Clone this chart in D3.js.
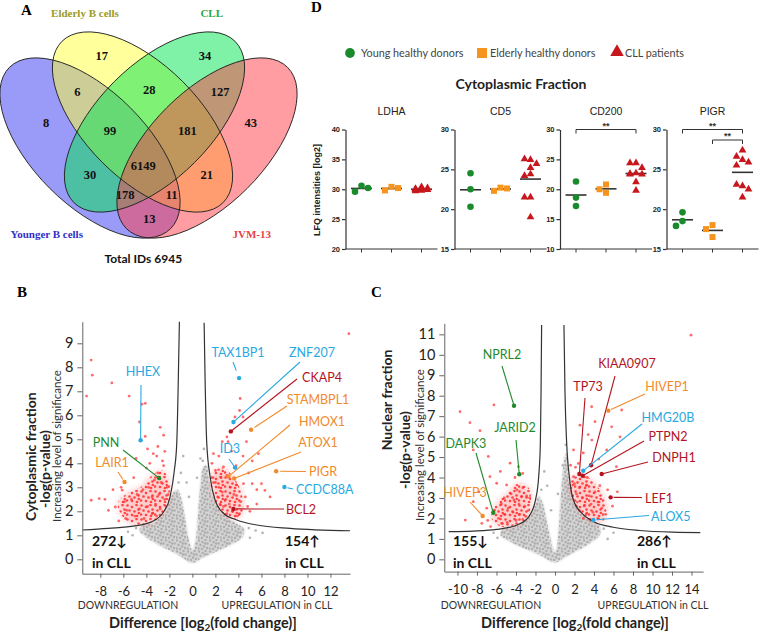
<!DOCTYPE html>
<html>
<head>
<meta charset="utf-8">
<script src="https://cdn.jsdelivr.net/npm/d3@7"></script>
<style>
  body { margin: 0; background: #fff; }
  svg { display: block; }
</style>
</head>
<body>
<div id="fig"></div>
<script>
// ---------- panel A: Venn counts
const vennSets = ['Younger B cells', 'Elderly B cells', 'CLL', 'JVM-13'];
const vennRegions = ['A', 'B', 'C', 'D', 'AB', 'BC', 'CD', 'AD', 'ABC', 'BCD', 'AC', 'BD', 'ACD', 'ABD', 'ABCD'];
const vennCounts = [8, 17, 34, 43, 6, 28, 127, 13, 99, 181, 30, 21, 178, 11, 6149];
const totalIDs = 6945;

// ---------- panel D: LFQ intensities
const proteins = ['LDHA', 'CD5', 'CD200', 'PIGR'];
const groups = ['Young healthy donors', 'Elderly healthy donors', 'CLL patients'];
const youngLFQ = [[30.6, 29.6, 30.2], [24.5, 22.5, 20.3], [21.3, 18.6, 17.2], [19.6, 18.5, 17.9]];
const elderlyLFQ = [[30.4, 29.8, 30.2], [22.7, 22.3, 22.6], [20.8, 20.0, 19.4], [18.0, 17.5, 16.5]];
const cllLFQ = [
  [30.4, 30.1, 29.9, 30.0, 29.7, 29.9, 30.2, 29.8, 30.0],
  [26.2, 26.3, 25.7, 25.2, 24.4, 24.2, 21.5, 21.5, 19.0],
  [24.4, 24.4, 23.6, 22.7, 22.5, 22.5, 22.6, 21.2, 19.8],
  [27.4, 26.2, 26.6, 25.9, 25.5, 22.9, 23.1, 22.5, 21.5]
];
const lfqDomains = [[20, 40], [15, 30], [10, 30], [15, 30]];
const lfqTicks = [[20, 25, 30, 35, 40], [15, 20, 25, 30], [10, 15, 20, 25, 30], [15, 20, 25, 30]];
const sigPairs = [[], [], [[0, 2]], [[0, 2], [1, 2]]];

// ---------- panel B: cytoplasmic volcano
const cytoCurveLeft = [[-9.57, 1.22], [-7.3, 1.29], [-5.0, 1.39], [-3.5, 1.57], [-2.5, 1.98], [-1.94, 2.6], [-1.57, 3.7], [-1.36, 4.82], [-1.22, 7.6], [-1.13, 9.9]];
const cytoCurveRight = [[1.02, 9.86], [1.1, 7.6], [1.25, 4.82], [1.54, 3.44], [1.97, 2.47], [2.7, 1.92], [3.86, 1.64], [5.6, 1.43], [8.5, 1.29], [13.7, 1.19]];
const cytoCloud = [[0, -0.15], [-1, 0.12], [-2, 0.38], [-3, 0.62], [-4, 0.92], [-4.6, 1.2], [-4.3, 1.42], [-3.5, 1.5], [-2.6, 1.85], [-2.1, 2.3], [-1.7, 2.75], [-1.3, 2.9], [-1.0, 2.6], [-0.6, 1.6], [-0.25, 0.7], [0, 0.35], [0.25, 0.7], [0.45, 1.6], [0.6, 2.6], [0.75, 3.3], [0.95, 3.85], [1.25, 3.9], [1.45, 3.3], [1.8, 2.6], [2.3, 2.1], [3.0, 1.75], [3.8, 1.5], [4.5, 1.25], [4.3, 0.9], [3.3, 0.6], [2.2, 0.35], [1.0, 0.1]];
const cytoGrayOut = [[-0.8, 4.3], [-1.0, 3.6], [-0.5, 3.2], [1.0, 4.6], [0.7, 4.2], [5.5, 1.2], [-5.2, 1.0], [6.1, 1.1], [-0.3, 2.6], [0.4, 3.4], [-4.9, 1.3], [-5.6, 1.15], [5.0, 0.9], [4.9, 1.3], [-1.2, 3.2], [0.9, 4.1]];
const cytoDenseDown = [[-6.5, 2.3], [-5.6, 1.55], [-4.3, 1.45], [-3.3, 1.6], [-2.5, 1.95], [-2.05, 2.5], [-2.0, 3.2], [-2.6, 3.7], [-3.5, 3.5], [-4.5, 3.0], [-5.5, 2.8]];
const cytoDenseUp = [[1.6, 3.5], [1.95, 2.5], [2.6, 1.95], [3.6, 1.68], [4.3, 1.9], [4.3, 2.7], [3.6, 3.4], [2.6, 3.8]];
const cytoSigDown = [[-8.8, 8.3], [-8.7, 7.67], [-9.2, 6.8], [-7.0, 7.35], [-5.5, 6.8], [-4.4, 6.46], [-4.1, 6.5], [-4.6, 5.72], [-2.8, 5.5], [-4.1, 5.12], [-2.5, 5.17], [-3.4, 4.4], [-3.1, 4.3], [-2.6, 4.1], [-8.8, 2.46], [-8.1, 2.53], [-6.1, 2.88], [-6.7, 2.18], [-7.3, 2.04], [-5.7, 2.04],
  [-3.0, 3.6], [-3.3, 3.3], [-2.7, 3.2], [-3.8, 3.0], [-4.3, 2.9], [-4.8, 2.7], [-5.3, 2.5], [-3.5, 2.6], [-2.9, 2.7], [-2.4, 2.5], [-3.2, 2.3], [-3.9, 2.2], [-4.6, 2.1], [-5.0, 1.8], [-4.2, 1.7], [-3.5, 1.9], [-2.8, 2.1], [-2.3, 2.2], [-3.1, 1.8], [-5.8, 1.7], [-6.4, 1.6], [-4.0, 3.8], [-5.1, 3.4], [-3.7, 4.0], [-6.2, 3.0],
  [-2.2, 3.0], [-2.5, 3.9], [-3.0, 4.7], [-2.4, 4.5], [-3.9, 4.6], [-5.9, 2.4], [-7.6, 2.5], [-6.9, 2.9], [-4.9, 4.2], [-2.1, 2.7]];
const cytoSigUp = [[4.15, 6.7], [4.1, 6.2], [3.7, 5.93], [4.4, 5.93], [3.0, 5.1], [1.83, 4.4], [4.7, 4.9], [5.74, 4.4], [4.4, 4.3], [3.1, 4.9], [5.2, 4.1], [2.7, 3.85], [2.0, 3.7], [4.44, 3.15], [5.2, 3.15], [6.0, 3.15], [6.3, 2.87], [6.75, 2.6], [5.6, 2.3], [5.0, 2.0], [13.6, 9.4],
  [2.0, 3.2], [2.3, 3.0], [2.6, 2.8], [2.2, 2.6], [2.9, 2.5], [3.2, 2.3], [2.7, 2.2], [3.5, 2.0], [3.0, 1.9], [3.9, 1.8], [4.2, 2.4], [3.6, 2.7], [3.3, 3.0], [2.5, 3.4], [3.8, 3.1], [4.6, 2.6], [4.1, 1.9], [2.4, 2.3], [1.8, 3.4], [3.0, 3.5],
  [2.3, 4.3], [3.4, 4.5], [2.6, 4.9], [4.9, 3.6], [5.6, 2.9], [4.8, 2.2], [1.7, 4.0], [3.8, 3.9]];
const cytoGenes = ['HHEX', 'PNN', 'LAIR1', 'TAX1BP1', 'ZNF207', 'CKAP4', 'STAMBPL1', 'HMOX1', 'ATOX1', 'ID3', 'PIGR', 'CCDC88A', 'BCL2'];
const cytoGeneFC = [-4.5, -2.9, -5.9, 4.06, 3.57, 3.34, 5.1, 3.13, 3.63, 3.71, 7.28, 8.0, 3.57];
const cytoGeneP = [4.96, 3.39, 3.22, 7.55, 5.72, 5.33, 5.4, 3.45, 3.37, 3.82, 3.67, 3.01, 2.1];
const cytoGeneGroup = ['blue', 'green', 'orange', 'blue', 'blue', 'red', 'orange', 'orange', 'orange', 'blue', 'orange', 'blue', 'red'];
const cytoCounts = [272, 154];

// ---------- panel C: nuclear volcano
const nucCurveLeft = [[-10.9, 1.35], [-8.4, 1.38], [-5.98, 1.46], [-3.9, 1.68], [-2.7, 2.08], [-2.0, 2.9], [-1.67, 4.05], [-1.5, 5.67], [-1.43, 8.1], [-1.37, 11.46]];
const nucCurveRight = [[0.92, 11.46], [1.03, 8.1], [1.2, 5.67], [1.47, 4.05], [1.88, 2.9], [2.74, 2.26], [3.93, 1.85], [5.98, 1.57], [8.72, 1.41], [12.1, 1.33], [14.9, 1.31]];
const nucCloud = [[0, -0.15], [-1.5, 0.2], [-3, 0.5], [-4.5, 0.85], [-5.6, 1.2], [-5.3, 1.5], [-4.2, 1.62], [-3.2, 1.85], [-2.5, 2.2], [-2.0, 2.7], [-1.7, 3.1], [-1.3, 2.8], [-0.9, 2.0], [-0.5, 1.1], [-0.2, 0.5], [0, 0.3], [0.2, 0.6], [0.4, 1.6], [0.55, 2.8], [0.75, 4.0], [1.0, 5.0], [1.2, 5.2], [1.35, 4.3], [1.6, 3.4], [2.0, 2.8], [2.7, 2.2], [3.6, 1.95], [4.5, 1.7], [4.6, 1.2], [3.6, 0.8], [2.4, 0.45], [1.2, 0.15]];
const nucGrayOut = [[-1.1, 4.3], [-0.8, 3.6], [1.1, 5.6], [-6.3, 1.3], [6.0, 1.3], [-0.4, 2.4], [0.3, 3.2], [5.4, 1.0], [-5.9, 1.05], [-1.4, 3.4], [0.8, 4.6], [5.0, 1.5]];
const nucDenseDown = [[-6.5, 2.0], [-5.5, 1.6], [-4.2, 1.65], [-3.0, 1.95], [-2.5, 2.6], [-2.7, 3.5], [-3.8, 3.7], [-5.0, 3.2], [-6.0, 2.7]];
const nucDenseUp = [[1.5, 3.9], [1.9, 2.9], [2.7, 2.25], [3.9, 1.85], [5.0, 1.9], [5.2, 2.8], [4.3, 3.6], [3.0, 4.1]];
const nucSigDown = [[-9.74, 7.22], [-6.26, 7.55], [-8.72, 6.68], [-7.69, 6.29], [-8.38, 5.35], [-6.84, 5.03], [-6.67, 4.04], [-8.38, 2.82], [-9.2, 1.92], [-4.6, 4.7], [-3.75, 4.53], [-5.98, 3.72], [-4.96, 3.64], [-3.42, 3.06], [-7.5, 1.76], [-5.47, 1.76],
  [-4.5, 3.2], [-3.9, 3.4], [-3.3, 3.5], [-4.2, 2.9], [-3.7, 2.7], [-3.1, 2.6], [-4.8, 2.5], [-4.3, 2.3], [-3.6, 2.2], [-5.2, 2.2], [-5.8, 2.0], [-4.0, 1.9], [-3.0, 2.1], [-2.7, 2.4], [-5.5, 2.7], [-6.2, 2.4], [-4.9, 1.8], [-3.3, 1.95], [-6.6, 1.6], [-2.9, 3.1], [-5.2, 3.0], [-7.0, 2.5],
  [-4.1, 4.0], [-3.3, 4.2], [-5.6, 4.3], [-2.6, 3.0], [-7.8, 3.3], [-6.9, 1.9]];
const nucSigUp = [[13.95, 10.96], [3.76, 7.46], [6.84, 7.3], [4.1, 6.73], [2.56, 6.56], [5.81, 6.48], [6.67, 5.99], [3.78, 5.83], [1.9, 5.35], [5.3, 5.35], [2.4, 4.69], [6.3, 4.53], [1.9, 4.04],
  [2.0, 3.7], [2.5, 3.5], [3.2, 3.6], [2.2, 3.2], [2.8, 3.0], [3.5, 3.1], [4.1, 3.3], [2.3, 2.8], [3.0, 2.6], [3.7, 2.7], [4.4, 2.8], [2.5, 2.4], [3.2, 2.2], [3.9, 2.3], [4.8, 2.5], [2.9, 2.0], [3.6, 1.95], [4.4, 2.0], [5.2, 2.2], [2.2, 2.6], [4.6, 3.6], [3.3, 4.0], [5.4, 3.4], [1.8, 3.1],
  [2.1, 4.5], [2.9, 5.2], [3.4, 6.1], [4.5, 4.9], [6.4, 3.3], [5.9, 2.6], [1.6, 4.6]];
const nucGenes = ['NPRL2', 'JARID2', 'DAPK3', 'HIVEP3', 'KIAA0907', 'TP73', 'HIVEP1', 'HMG20B', 'PTPN2', 'DNPH1', 'LEF1', 'ALOX5'];
const nucGeneFC = [-4.2, -3.66, -6.33, -7.42, 3.7, 2.5, 5.47, 2.9, 2.84, 4.79, 5.71, 3.93];
const nucGeneP = [7.51, 4.16, 2.28, 2.12, 4.6, 4.17, 7.27, 4.33, 4.09, 4.17, 3.03, 1.92];
const nucGeneGroup = ['green', 'green', 'green', 'orange', 'red', 'red', 'orange', 'blue', 'red', 'red', 'red', 'blue'];
const nucCounts = [155, 286];

// ---------- styles / layout
const geneColor = { blue: '#29a9e1', green: '#1f8a2c', orange: '#f28a2b', red: '#b3141e' };
const groupColor = ['#1a8b2c', '#f7941d', '#c8161d'];
const sans = 'Lato, "Open Sans", sans-serif';
const serif = '"Liberation Serif", "Times New Roman", serif';

const svg = d3.select('#fig').append('svg')
  .attr('width', 760).attr('height', 633)
  .style('font-family', sans);

const defs = svg.append('defs');
defs.append('filter').attr('id', 'soft').attr('x', '-20%').attr('y', '-20%').attr('width', '140%').attr('height', '140%')
  .append('feGaussianBlur').attr('stdDeviation', 1.3);
defs.append('filter').attr('id', 'softer').attr('x', '-20%').attr('y', '-20%').attr('width', '140%').attr('height', '140%')
  .append('feGaussianBlur').attr('stdDeviation', 3);

// speckle textures for the dense point clouds
const grayPat = defs.append('pattern').attr('id', 'grayDots')
  .attr('width', 11).attr('height', 11).attr('patternUnits', 'userSpaceOnUse');
[[1, 1.5], [4.5, 3], [7.5, 1], [2.5, 6], [6, 7.5], [9.5, 4.5], [0.5, 9.5], [4, 10], [9, 9], [7, 4.5]].forEach(p => {
  grayPat.append('circle').attr('cx', p[0]).attr('cy', p[1]).attr('r', 1.2).attr('fill', '#a6a6a6');
});
const redPat = defs.append('pattern').attr('id', 'redDots')
  .attr('width', 14).attr('height', 14).attr('patternUnits', 'userSpaceOnUse');
[[1.5, 1.5], [6, 3], [10.5, 1], [3.5, 6.5], [8.5, 7.5], [12.5, 5.5], [1, 10.5], [6, 11], [11, 12], [12.8, 9]].forEach(p => {
  redPat.append('circle').attr('cx', p[0]).attr('cy', p[1]).attr('r', 1.3).attr('fill', '#ff2020').attr('opacity', 0.8);
});

// panel letters
[['A', 21, 15], ['D', 311, 12], ['B', 17, 297], ['C', 371, 297]].forEach(d => {
  svg.append('text').attr('x', d[1]).attr('y', d[2]).text(d[0])
    .style('font-family', serif).style('font-weight', 'bold').style('font-size', '15px');
});

// ===================== A: Venn =====================
const vennShapes = [
  { cx: 90, cy: 148, rx: 114, ry: 57, rot: 45, fill: '#3535f2' },
  { cx: 142.5, cy: 122, rx: 114, ry: 57, rot: 45, fill: '#ffff38' },
  { cx: 154.5, cy: 122, rx: 114, ry: 57, rot: -45, fill: '#00e650' },
  { cx: 207, cy: 148, rx: 114, ry: 57, rot: -45, fill: '#ff3c46' }
];
const gA = svg.append('g');
gA.selectAll('ellipse.fill').data(vennShapes).join('ellipse')
  .attr('cx', 0).attr('cy', 0).attr('rx', d => d.rx).attr('ry', d => d.ry)
  .attr('transform', d => `translate(${d.cx},${d.cy}) rotate(${d.rot})`)
  .attr('fill', d => d.fill).attr('fill-opacity', 0.5);
gA.selectAll('ellipse.edge').data(vennShapes).join('ellipse')
  .attr('cx', 0).attr('cy', 0).attr('rx', d => d.rx).attr('ry', d => d.ry)
  .attr('transform', d => `translate(${d.cx},${d.cy}) rotate(${d.rot})`)
  .attr('fill', 'none').attr('stroke', '#222').attr('stroke-width', 0.9);

const vennLabelPos = {
  A: [46, 123], B: [101.7, 56], C: [205, 56], D: [250.7, 123],
  AB: [77.3, 92], BC: [149.3, 89.5], CD: [220, 92], AD: [149.3, 218.5],
  ABC: [110, 131], BCD: [187.3, 131], AC: [90, 175], BD: [206.7, 175],
  ACD: [125, 194.5], ABD: [171.7, 194.5], ABCD: [143.3, 166]
};
gA.selectAll('text.cnt').data(vennRegions).join('text')
  .attr('x', d => vennLabelPos[d][0]).attr('y', d => vennLabelPos[d][1] + 4.3)
  .attr('text-anchor', 'middle')
  .style('font-family', serif).style('font-weight', 'bold').style('font-size', '12.5px').style('fill', '#111')
  .text((d, i) => vennCounts[i]);

const vennTitlePos = [[46.7, 237.5], [85, 16.8], [211.7, 16.8], [251.7, 237.5]];
const vennTitleColor = ['#3030c8', '#9a9a2c', '#26a84a', '#e8434a'];
vennSets.forEach((s, i) => {
  gA.append('text').attr('x', vennTitlePos[i][0]).attr('y', vennTitlePos[i][1])
    .attr('text-anchor', 'middle').text(s)
    .style('font-family', serif).style('font-weight', 'bold').style('font-size', '11px')
    .style('fill', vennTitleColor[i]);
});
gA.append('text').attr('x', 143.3).attr('y', 262.5).attr('text-anchor', 'middle')
  .text('Total IDs ' + totalIDs)
  .style('font-weight', 'bold').style('font-size', '12px').style('fill', '#111');

// ===================== D: dot plots =====================
const gD = svg.append('g').style('font-family', '"Liberation Sans", Arial, sans-serif');
const legendX = [350, 482, 617];
const shapes = [d3.symbolCircle, d3.symbolSquare, d3.symbolTriangle];
groups.forEach((gname, i) => {
  gD.append('path').attr('d', d3.symbol(shapes[i], i === 2 ? 80 : (i === 1 ? 100 : 75))())
    .attr('transform', `translate(${legendX[i]},${i === 2 ? 52 : 53})`).attr('fill', groupColor[i]);
  gD.append('text').attr('x', legendX[i] + (i === 0 ? 11 : 8)).attr('y', 56.5).text(gname)
    .style('font-family', sans).style('font-size', '10.8px').style('fill', '#444');
});
gD.append('text').attr('x', 521).attr('y', 89).attr('text-anchor', 'middle').text('Cytoplasmic Fraction')
  .style('font-family', sans).style('font-weight', 'bold').style('font-size', '14px').style('fill', '#222');
gD.append('text').attr('transform', 'translate(320,190) rotate(-90)').attr('text-anchor', 'middle')
  .text('LFQ intensities [log2]').style('font-size', '9px').style('font-weight', 'bold').style('fill', '#222');

const panelX0 = [345.5, 454.5, 560, 666.5];
// simple dodge so that equal values sit side by side
function swarm(vals, yS, cx, step) {
  const placed = [];
  vals.forEach(v => {
    const yy = yS(v);
    const cand = [0, -step, step];
    let best = 0, bestD = -1;
    for (const o of cand) {
      const dmin = placed.length ? d3.min(placed, p => Math.hypot(p.x - (cx + o), p.y - yy)) : Infinity;
      if (dmin >= step) { best = o; bestD = Infinity; break; }
      if (dmin > bestD) { bestD = dmin; best = o; }
    }
    placed.push({ x: cx + best, y: yy });
  });
  return placed;
}
proteins.forEach((p, i) => {
  const x0 = panelX0[i];
  const y = d3.scaleLinear().domain(lfqDomains[i]).range([249, 129.5]);
  const x = d3.scalePoint().domain(groups).range([x0 + 16, x0 + 76]);
  const g = gD.append('g');
  g.append('text').attr('x', x0 + 46).attr('y', 114.5).attr('text-anchor', 'middle').text(p)
    .style('font-size', '10.5px').style('fill', '#222');
  const ya = g.append('g').attr('transform', `translate(${x0},0)`)
    .call(d3.axisLeft(y).tickValues(lfqTicks[i]).tickSize(3.5).tickSizeOuter(0).tickPadding(2).tickFormat(d => d));
  ya.selectAll('text').style('font-size', '7.5px').style('font-weight', 'bold').style('fill', '#222');
  ya.selectAll('line, path').attr('stroke', '#333').attr('stroke-width', 1.2);
  const xa = g.append('g').attr('transform', 'translate(0,249)');
  xa.append('line').attr('x1', x0).attr('x2', x0 + 92).attr('stroke', '#333').attr('stroke-width', 1.2);
  xa.selectAll('line.t').data(groups).join('line').attr('class', 't')
    .attr('x1', d => x(d)).attr('x2', d => x(d)).attr('y1', 0).attr('y2', 3.5).attr('stroke', '#333');

  const sets = [youngLFQ[i], elderlyLFQ[i], cllLFQ[i]];
  sets.forEach((vals, k) => {
    const cx = x(groups[k]);
    const m = d3.mean(vals);
    g.append('line').attr('x1', cx - 10.5).attr('x2', cx + 10.5).attr('y1', y(m)).attr('y2', y(m))
      .attr('stroke', '#333').attr('stroke-width', 1.6);
    const pts = swarm(vals, y, cx, k === 2 ? 6 : 6.5);
    g.selectAll(null).data(pts).join('path')
      .attr('d', d3.symbol(shapes[k], k === 0 ? 34 : (k === 1 ? 36 : 26))())
      .attr('transform', d => `translate(${d.x},${d.y})`)
      .attr('fill', groupColor[k]);
  });
  sigPairs[i].forEach((pr, j) => {
    const by = 129.5 + j * 10.5;
    const xa0 = x(groups[pr[0]]), xa1 = x(groups[pr[1]]);
    g.append('path').attr('d', `M${xa0},${by + 4}V${by}H${xa1}V${by + 4}`)
      .attr('fill', 'none').attr('stroke', '#333').attr('stroke-width', 1);
    g.append('text').attr('x', (xa0 + xa1) / 2).attr('y', by - 1).attr('text-anchor', 'middle')
      .text('**').style('font-size', '9px').style('font-weight', 'bold').style('fill', '#333');
  });
});

// ===================== B, C: volcano plots =====================
function leader(g, x1, y1, x2, y2, gap, color) {
  const dx = x2 - x1, dy = y2 - y1, L = Math.hypot(dx, dy);
  g.append('line').attr('x1', x1).attr('y1', y1)
    .attr('x2', x2 - dx / L * gap).attr('y2', y2 - dy / L * gap)
    .attr('stroke', color).attr('stroke-width', 1.1);
}

function volcano(o) {
  const x = d3.scaleLinear().domain(o.xDomain).range(o.xRange);
  const y = d3.scaleLinear().domain(o.yDomain).range(o.yRange);
  const g = svg.append('g');
  const closed = d3.line().x(d => x(d[0])).y(d => y(d[1])).curve(d3.curveCatmullRomClosed);
  const open = d3.line().x(d => x(d[0])).y(d => y(d[1])).curve(d3.curveMonotoneX);

  // non-significant cloud
  g.append('path').attr('d', closed(o.cloud)).attr('fill', '#d3d3d3').attr('filter', 'url(#soft)');
  g.append('path').attr('d', closed(o.cloud)).attr('fill', 'url(#grayDots)').attr('opacity', 0.85);
  g.selectAll(null).data(o.grayOut).join('circle')
    .attr('cx', d => x(d[0])).attr('cy', d => y(d[1])).attr('r', 1.3).attr('fill', '#b5b5b5');
  // significant, dense parts
  [o.denseDown, o.denseUp].forEach(poly => {
    g.append('path').attr('d', closed(poly)).attr('fill', '#ff5a5a').attr('opacity', 0.3).attr('filter', 'url(#softer)');
    g.append('path').attr('d', closed(poly)).attr('fill', 'url(#redDots)');
  });
  g.selectAll(null).data(o.sigDown.concat(o.sigUp)).join('circle')
    .attr('cx', d => x(d[0])).attr('cy', d => y(d[1])).attr('r', 1.4)
    .attr('fill', '#ff2a2a').attr('opacity', 0.7);

  [o.curveLeft, o.curveRight].forEach(c => {
    g.append('path').attr('d', open(c)).attr('fill', 'none').attr('stroke', '#333').attr('stroke-width', 1.2);
  });

  // axes
  const ya = g.append('g').attr('transform', `translate(${o.xRange[0]},0)`)
    .call(d3.axisLeft(y).tickValues(o.yTicks).tickSize(5).tickSizeOuter(0).tickPadding(4).tickFormat(d => d));
  ya.selectAll('text').style('font-size', '14.5px').style('fill', '#222').style('font-family', sans);
  ya.selectAll('line, path').attr('stroke', '#666');
  const xa = g.append('g').attr('transform', `translate(0,${o.yRange[0]})`)
    .call(d3.axisBottom(x).tickValues(o.xTicks).tickSize(4).tickSizeOuter(0).tickPadding(9).tickFormat(d => String(d)));
  xa.selectAll('text').style('font-size', '13px').style('fill', '#222').style('font-family', sans);
  xa.selectAll('line, path').attr('stroke', '#666');

  // axis titles
  const yl = o.yLabel;
  g.append('text').attr('transform', `translate(${yl[0][0]},${yl[0][1]}) rotate(-90)`).attr('text-anchor', 'middle')
    .text(yl[0][2]).style('font-weight', 'bold').style('font-size', '14px').style('fill', '#222');
  g.append('text').attr('transform', `translate(${yl[1][0]},${yl[1][1]}) rotate(-90)`).attr('text-anchor', 'middle')
    .text('-log(p-value)').style('font-weight', 'bold').style('font-size', '14px').style('fill', '#222');
  g.append('text').attr('transform', `translate(${yl[2][0]},${yl[2][1]}) rotate(-90)`).attr('text-anchor', 'middle')
    .text('Increasing level of significance').style('font-size', '11.5px').style('fill', '#333');
  g.append('text').attr('x', o.down[0]).attr('y', 609).attr('text-anchor', 'middle').text('DOWNREGULATION')
    .style('font-size', '10.5px').style('fill', '#333');
  g.append('text').attr('x', o.up[0]).attr('y', 609).attr('text-anchor', 'middle').text('UPREGULATION in CLL')
    .style('font-size', '10.5px').style('fill', '#333');
  const dt = g.append('text').attr('x', o.diffX).attr('y', 628).attr('text-anchor', 'middle')
    .style('font-weight', 'bold').style('font-size', '14.5px').style('fill', '#222');
  dt.append('tspan').text('Difference [log');
  dt.append('tspan').text('2').attr('dy', 3).style('font-size', '10px');
  dt.append('tspan').text('(fold change)]').attr('dy', -3);

  // counts
  [[o.countX[0], o.counts[0] + '\u2193'], [o.countX[1], o.counts[1] + '\u2191']].forEach(c => {
    g.append('text').attr('x', c[0]).attr('y', 546).text(c[1])
      .style('font-weight', 'bold').style('font-size', '14px').style('fill', '#111');
    g.append('text').attr('x', c[0]).attr('y', 568).text('in CLL')
      .style('font-weight', 'bold').style('font-size', '14px').style('fill', '#111');
  });

  // highlighted genes
  o.genes.forEach((name, i) => {
    const px = x(o.fc[i]), py = y(o.p[i]);
    const col = geneColor[o.group[i]];
    const L = o.layout[name];
    leader(g, L.lx, L.ly, px, py, L.gap || 1, col);
    g.append('circle').attr('cx', px).attr('cy', py).attr('r', 2.2).attr('fill', col);
    g.append('text').attr('x', L.tx).attr('y', L.ty).attr('text-anchor', L.anchor || 'middle').text(name)
      .style('font-size', '12.5px').style('fill', col);
  });
}

volcano({
  xDomain: [-9.57, 13.7], xRange: [82.3, 350],
  yDomain: [-0.6, 9.9], yRange: [573.7, 321.7],
  xTicks: d3.range(-8, 13, 2), yTicks: d3.range(0, 10),
  cloud: cytoCloud, grayOut: cytoGrayOut, denseDown: cytoDenseDown, denseUp: cytoDenseUp,
  sigDown: cytoSigDown, sigUp: cytoSigUp, curveLeft: cytoCurveLeft, curveRight: cytoCurveRight,
  yLabel: [[36, 456.7, 'Cytoplasmic fraction'], [49.5, 469], [61, 446]],
  down: [128], up: [277], diffX: 203,
  counts: cytoCounts, countX: [92, 285],
  genes: cytoGenes, fc: cytoGeneFC, p: cytoGeneP, group: cytoGeneGroup,
  layout: {
    HHEX: { tx: 143, ty: 376, lx: 141, ly: 385 },
    PNN: { tx: 106, ty: 447, lx: 123, ly: 450 },
    LAIR1: { tx: 112, ty: 467, lx: 118, ly: 472, gap: 3 },
    TAX1BP1: { tx: 238, ty: 357, lx: 233, ly: 362, gap: 8 },
    ZNF207: { tx: 312, ty: 357, lx: 300, ly: 362 },
    CKAP4: { tx: 322, ty: 382, lx: 297, ly: 379 },
    STAMBPL1: { tx: 318, ty: 404, lx: 287, ly: 406, gap: 4 },
    HMOX1: { tx: 322, ty: 426, lx: 290, ly: 425 },
    ATOX1: { tx: 318, ty: 447, lx: 301, ly: 452 },
    ID3: { tx: 230, ty: 453, lx: 229, ly: 459, gap: 2 },
    PIGR: { tx: 309, ty: 476, lx: 306, ly: 471.5, gap: 4, anchor: 'start' },
    CCDC88A: { tx: 296, ty: 494, lx: 293, ly: 489, gap: 3, anchor: 'start' },
    BCL2: { tx: 286, ty: 513.5, lx: 284, ly: 509, gap: 3, anchor: 'start' }
  }
});

volcano({
  xDomain: [-11.35, 15.2], xRange: [444.3, 703.2],
  yDomain: [-0.6, 11.54], yRange: [571.6, 323.3],
  xTicks: d3.range(-10, 15, 2), yTicks: d3.range(0, 12),
  cloud: nucCloud, grayOut: nucGrayOut, denseDown: nucDenseDown, denseUp: nucDenseUp,
  sigDown: nucSigDown, sigUp: nucSigUp, curveLeft: nucCurveLeft, curveRight: nucCurveRight,
  yLabel: [[392, 400, 'Nuclear fraction'], [410, 450], [424, 445]],
  down: [491], up: [653], diffX: 575,
  counts: nucCounts, countX: [453, 637],
  genes: nucGenes, fc: nucGeneFC, p: nucGeneP, group: nucGeneGroup,
  layout: {
    NPRL2: { tx: 502, ty: 359, lx: 502, ly: 366 },
    JARID2: { tx: 515, ty: 432, lx: 516, ly: 440 },
    DAPK3: { tx: 466, ty: 448, lx: 476, ly: 453 },
    HIVEP3: { tx: 465, ty: 497, lx: 470, ly: 502 },
    KIAA0907: { tx: 627, ty: 368, lx: 615, ly: 376 },
    TP73: { tx: 588, ty: 391, lx: 585, ly: 398 },
    HIVEP1: { tx: 667, ty: 391, lx: 645, ly: 394, gap: 3 },
    HMG20B: { tx: 668, ty: 422, lx: 642, ly: 424 },
    PTPN2: { tx: 668, ty: 441, lx: 644, ly: 441 },
    DNPH1: { tx: 674, ty: 462, lx: 648, ly: 462 },
    LEF1: { tx: 645, ty: 502.5, lx: 642, ly: 497.5, gap: 3, anchor: 'start' },
    ALOX5: { tx: 651, ty: 520.5, lx: 649, ly: 515.5, gap: 3, anchor: 'start' }
  }
});
</script>
</body>
</html>
